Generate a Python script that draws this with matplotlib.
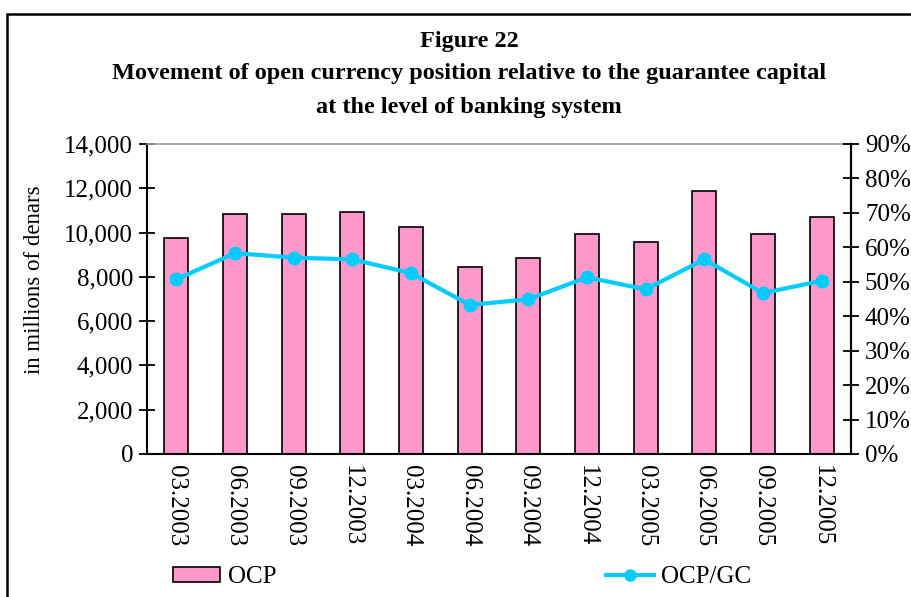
import matplotlib
matplotlib.use('Agg')
import matplotlib.pyplot as plt
from matplotlib.ticker import FuncFormatter, MultipleLocator
from matplotlib.patches import Rectangle, Patch
from matplotlib.lines import Line2D
import numpy as np

plt.rcParams['font.family'] = ['Liberation Serif', 'DejaVu Serif']

# quarterly data
periods = ['03.2003', '06.2003', '09.2003', '12.2003', '03.2004', '06.2004',
           '09.2004', '12.2004', '03.2005', '06.2005', '09.2005', '12.2005']
ocp = [9750, 10850, 10850, 10920, 10270, 8460, 8840, 9920, 9560, 11890, 9920, 10720]
ocp_gc = [50.7, 58.3, 57.0, 56.5, 52.5, 43.3, 44.9, 51.3, 47.8, 56.5, 46.7, 50.3]

pink = '#FF99CC'
cyan = '#00CCFF'
tick_fs = 18

fig = plt.figure(figsize=(9.11, 5.97), dpi=100)
fig.patch.set_facecolor('white')

# outer frame of the figure box
fig.patches.append(Rectangle((7 / 911, -0.1), 1.2, (597 - 14) / 597 + 0.1,
                             transform=fig.transFigure, fill=False,
                             edgecolor='black', linewidth=1.8))

ax = fig.add_axes([147 / 911, 143 / 597, 704 / 911, 310 / 597])
x = np.arange(len(periods))
ax.bar(x, ocp, width=0.41, color=pink, edgecolor='black', linewidth=1.2, zorder=2)
ax.set_xlim(-0.5, len(periods) - 0.5)
ax.set_ylim(0, 14000)
ax.yaxis.set_major_locator(MultipleLocator(2000))
ax.yaxis.set_major_formatter(FuncFormatter(lambda v, p: f'{int(v):,}'))
ax.set_xticks(x)
ax.set_xticklabels(periods, rotation=270, fontsize=tick_fs)
ax.tick_params(axis='x', length=0, pad=8)
ax.tick_params(axis='y', direction='inout', length=12, width=1.3, labelsize=tick_fs, pad=4)

for s in ['left', 'right', 'bottom']:
    ax.spines[s].set_color('black')
    ax.spines[s].set_linewidth(1.5)
ax.spines['top'].set_color('#999999')
ax.spines['top'].set_linewidth(1.2)

ax2 = ax.twinx()
ax2.plot(x, ocp_gc, color=cyan, linewidth=3, marker='o', markersize=9, zorder=3)
ax2.set_ylim(0, 90)
ax2.yaxis.set_major_locator(MultipleLocator(10))
ax2.yaxis.set_major_formatter(FuncFormatter(lambda v, p: f'{int(v)}%'))
ax2.tick_params(axis='y', direction='inout', length=12, width=1.3, labelsize=tick_fs, pad=4)
for s in ax2.spines.values():
    s.set_visible(False)
ax2.spines['right'].set_visible(True)
ax2.spines['right'].set_color('black')
ax2.spines['right'].set_linewidth(1.5)

fig.text(35 / 911, 1 - 280 / 597, 'in millions of denars', rotation=90,
         ha='center', va='center', fontsize=16.5)

# title
title_fs = 17.5
title_x = 469 / 911
fig.text(title_x, 1 - 42 / 597, 'Figure 22', ha='center', va='center',
         fontsize=title_fs, fontweight='bold')
fig.text(title_x, 1 - 74 / 597,
         'Movement of open currency position relative to the guarantee capital',
         ha='center', va='center', fontsize=title_fs, fontweight='bold')
fig.text(title_x, 1 - 107 / 597, 'at the level of banking system',
         ha='center', va='center', fontsize=title_fs, fontweight='bold')

handles = [Patch(facecolor=pink, edgecolor='black', linewidth=1.2),
           Line2D([0], [0], color=cyan, linewidth=3, marker='o', markersize=8)]
fig.legend(handles, ['OCP', 'OCP/GC'], loc='center', ncol=2,
           bbox_to_anchor=(462 / 911, 1 - 577 / 597), frameon=False,
           fontsize=18, handlelength=1.9, handleheight=0.55,
           handletextpad=0.3, columnspacing=13.2, borderpad=0)

plt.savefig('out.png', dpi=100, facecolor='white')
